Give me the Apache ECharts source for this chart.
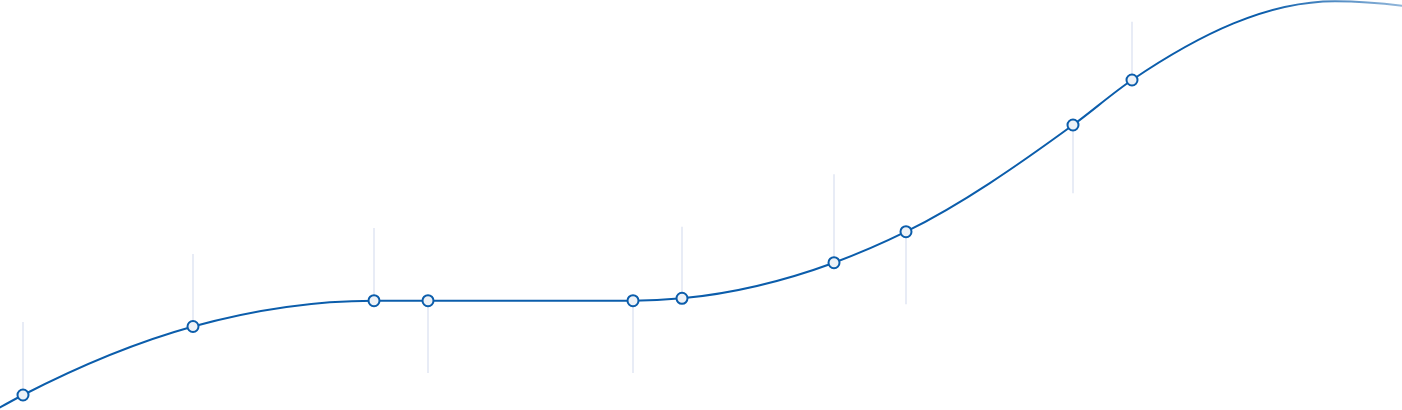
<!DOCTYPE html>
<html>
<head>
<meta charset="utf-8">
<script src="https://cdn.jsdelivr.net/npm/echarts@6/dist/echarts.min.js"></script>
<style>
html,body{margin:0;padding:0;background:#fff;}
#chart{width:1402px;height:410px;}
</style>
</head>
<body>
<div id="chart"></div>
<script>
// Milestone positions (x) and values (y)
const pointX = [23, 193, 374, 428, 633, 682, 834, 906, 1073, 1132];
const pointY = [15, 83.5, 109.3, 109.3, 109.3, 111.7, 147.3, 178.3, 285, 330];
// End of each milestone's stem (value where the faint vertical line ends)
const stemEnd = [88, 156, 182, 37, 37, 183.3, 235.7, 105.7, 216.7, 388.3];
// Curve continuation beyond the first / last milestone (not marked)
const leadIn = [[-80, -45]];
const leadOut = [[1335, 408.8], [1620, 350]];

const lineColor = '#0b5dab';

// full curve knots
const knots = leadIn.concat(pointX.map((x, i) => [x, pointY[i]]), leadOut);

// monotone-x tangents (Fritsch–Carlson, as in d3.curveMonotoneX)
function sign(v) { return v < 0 ? -1 : 1; }
const n = knots.length;
const slopes = [];
for (let i = 0; i < n - 1; i++) {
  slopes.push((knots[i + 1][1] - knots[i][1]) / (knots[i + 1][0] - knots[i][0]));
}
const tangents = new Array(n);
for (let i = 1; i < n - 1; i++) {
  const h0 = knots[i][0] - knots[i - 1][0], h1 = knots[i + 1][0] - knots[i][0];
  const s0 = slopes[i - 1], s1 = slopes[i];
  const p = (s0 * h1 + s1 * h0) / (h0 + h1);
  tangents[i] = (sign(s0) + sign(s1)) * Math.min(Math.abs(s0), Math.abs(s1), 0.5 * Math.abs(p)) || 0;
}
tangents[0] = (3 * slopes[0] - tangents[1]) / 2;
tangents[n - 1] = (3 * slopes[n - 2] - tangents[n - 2]) / 2;

const segData = [];
for (let i = 0; i < n - 1; i++) {
  const [x0, y0] = knots[i], [x1, y1] = knots[i + 1];
  const dx = (x1 - x0) / 3;
  segData.push([x0, y0, x0 + dx, y0 + dx * tangents[i], x1 - dx, y1 - dx * tangents[i + 1], x1, y1]);
}

const stemData = pointX.map((x, i) => [x, pointY[i], stemEnd[i]]);
const markerData = pointX.map((x, i) => [x, pointY[i]]);

const strokeGrad = new echarts.graphic.LinearGradient(0, 0, 1402, 0, [
  { offset: 0, color: lineColor },
  { offset: 0.9, color: lineColor },
  { offset: 1, color: 'rgba(11,93,171,0.45)' }
], true);

const chart = echarts.init(document.getElementById('chart'), null, { renderer: 'canvas' });
chart.setOption({
  animation: false,
  grid: { left: 0, right: 0, top: 0, bottom: 0, containLabel: false },
  xAxis: { type: 'value', min: 0, max: 1402, show: false },
  yAxis: { type: 'value', min: 0, max: 410, show: false },
  series: [
    {
      type: 'custom',
      z: 1,
      clip: true,
      silent: true,
      data: stemData,
      renderItem: function (params, api) {
        const a = api.coord([api.value(0), api.value(1)]);
        const b = api.coord([api.value(0), api.value(2)]);
        return {
          type: 'line',
          shape: { x1: a[0], y1: a[1], x2: b[0], y2: b[1] },
          style: { stroke: '#e8ecf6', lineWidth: 2 }
        };
      }
    },
    {
      type: 'custom',
      z: 2,
      clip: true,
      silent: true,
      data: segData,
      renderItem: function (params, api) {
        const p0 = api.coord([api.value(0), api.value(1)]);
        const c1 = api.coord([api.value(2), api.value(3)]);
        const c2 = api.coord([api.value(4), api.value(5)]);
        const p1 = api.coord([api.value(6), api.value(7)]);
        const d = 'M' + p0[0] + ' ' + p0[1] + ' C' + c1[0] + ' ' + c1[1] + ' ' + c2[0] + ' ' + c2[1] + ' ' + p1[0] + ' ' + p1[1];
        return {
          type: 'path',
          shape: { pathData: d },
          style: { stroke: strokeGrad, fill: null, lineWidth: 2 }
        };
      }
    },
    {
      type: 'scatter',
      z: 3,
      silent: true,
      symbol: 'circle',
      symbolSize: 11,
      data: markerData,
      itemStyle: { color: '#eef2f7', borderColor: lineColor, borderWidth: 2, opacity: 1 },
      emphasis: { disabled: true }
    }
  ]
});
</script>
</body>
</html>
